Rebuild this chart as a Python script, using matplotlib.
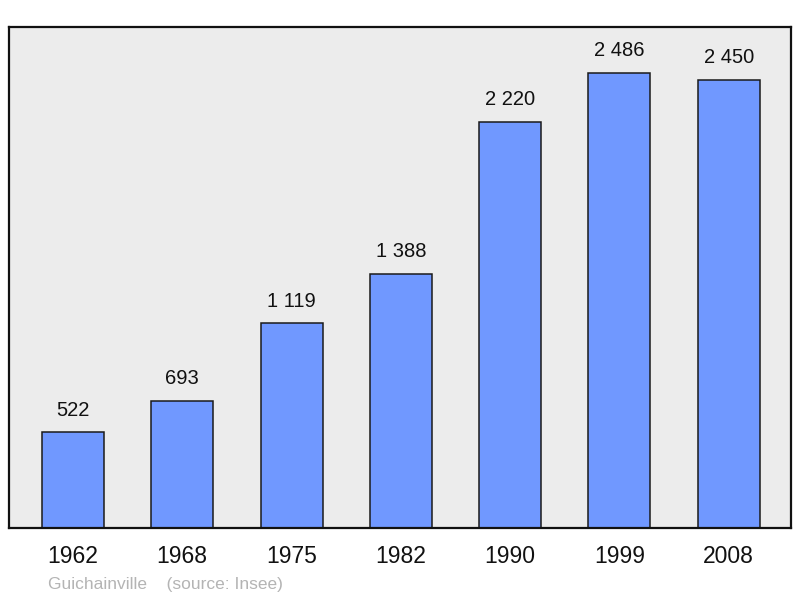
import matplotlib.pyplot as plt

plt.rcParams['font.family'] = ['Liberation Sans', 'DejaVu Sans']

years = ['1962', '1968', '1975', '1982', '1990', '1999', '2008']
population = [522, 693, 1119, 1388, 2220, 2486, 2450]
value_labels = ['522', '693', '1 119', '1 388', '2 220', '2 486', '2 450']

fig = plt.figure(figsize=(8, 5.98), dpi=100)
ax = fig.add_axes([9 / 800, 1 - 528 / 598, 782 / 800, 501 / 598])
ax.set_facecolor('#ececec')

x = list(range(len(years)))
ax.bar(x, population, width=0.567, color='#7098ff', edgecolor='#1a1a1a', linewidth=1.1, zorder=2)

for xi, v, lab in zip(x, population, value_labels):
    ax.annotate(lab, (xi, v), xytext=(0, 16), textcoords='offset points',
                ha='center', va='center', fontsize=14.5, color='#111111')

ax.set_xlim(-0.585, 6.57)
ax.set_ylim(0, 2738)
ax.set_yticks([])
ax.set_xticks(x)
ax.set_xticklabels(years, fontsize=16.5, color='#111111')
ax.tick_params(axis='x', length=0, pad=12)
for s in ax.spines.values():
    s.set_linewidth(1.6)
    s.set_color('#111111')

fig.text(48 / 800, 1 - 584 / 598, 'Guichainville    (source: Insee)', fontsize=12.5,
         color='#b4b4b4', va='center', ha='left')

fig.savefig('out.png', dpi=100)
